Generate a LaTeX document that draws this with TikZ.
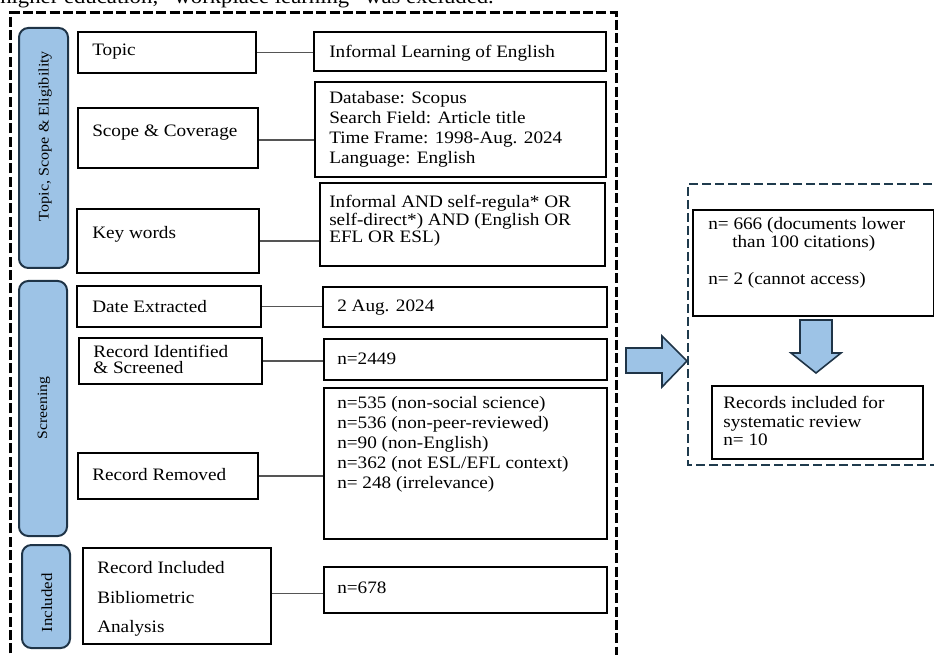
\documentclass[tikz,border=0pt]{standalone}
\usepackage{fontspec}
\setmainfont[FakeStretch=1.1]{Liberation Serif}
\definecolor{lblue}{HTML}{9DC3E6}
\definecolor{navy}{HTML}{1F3447}
\definecolor{dnavy}{HTML}{1F3B4D}
\definecolor{cgray}{HTML}{555555}
\begin{document}
\begin{tikzpicture}[x=0.75pt,y=-0.75pt,
  every node/.style={font=\fontsize{13.1pt}{15pt}\selectfont},
  box/.style={draw=black, line width=1.5pt, anchor=north west, inner sep=0pt},
  txt/.style={anchor=west, inner sep=0pt, align=left},
  side/.style={draw=navy, fill=lblue, line width=1.5pt, rounded corners=7pt, inner sep=0pt},
  sidetxt/.style={rotate=90, inner sep=0pt},
  conn/.style={draw=cgray, line width=0.8pt},
  frame/.style={draw=black, line width=2.25pt, dash pattern=on 7.5pt off 2.5pt},
  rframe/.style={draw=dnavy, line width=1.5pt, dash pattern=on 6.75pt off 3pt},
  blockarrow/.style={draw=navy, fill=lblue, line width=1.2pt, line join=miter}]
\useasboundingbox (0,0) rectangle (934,655);

% heading remnant
\node[anchor=base west, inner sep=0pt, font=\fontsize{15.5pt}{17pt}\selectfont] (head) at (0,4) {higher education; “workplace learning” was excluded.};

% outer dashed frame
\draw[frame] (10,680) -- (10,13) -- (616,13) -- (616,680);

% side labels
\node[side, minimum width=36.75pt, minimum height=180pt] (s1) at (43.5,148) {};
\node[sidetxt, font=\fontsize{11pt}{13pt}\selectfont] (s1t) at (45,136) {Topic, Scope \& Eligibility};
\node[side, minimum width=36pt, minimum height=191.25pt] (s2) at (43,408.5) {};
\node[sidetxt, font=\fontsize{10.7pt}{12pt}\selectfont] (s2t) at (44,408) {Screening};
\node[side, minimum width=36pt, minimum height=77.25pt] (s3) at (46,596.5) {};
\node[sidetxt, font=\fontsize{11.5pt}{13pt}\selectfont] (s3t) at (47,603) {Included};

% left boxes
\node[box, minimum width=133.5pt, minimum height=30.75pt] (topic) at (77,31) {};
\node[txt] (topict) at (92,52) {Topic};
\node[box, minimum width=135pt, minimum height=45pt] (scope) at (77,107) {};
\node[txt] (scopet) at (92,133) {Scope \& Coverage};
\node[box, minimum width=136.5pt, minimum height=48pt] (keyw) at (76,208) {};
\node[txt] (keywt) at (92,234) {Key words};
\node[box, minimum width=138pt, minimum height=30.75pt] (date) at (76,285) {};
\node[txt] (datet) at (92,307) {Date Extracted};
\node[box, minimum width=137.25pt, minimum height=34.5pt] (ident) at (78,337) {};
\node[txt, font=\fontsize{13.1pt}{12pt}\selectfont] (identt) at (93,359) {Record Identified\\\& Screened};
\node[box, minimum width=135pt, minimum height=34.5pt] (remov) at (77,452) {};
\node[txt] (removt) at (92,475) {Record Removed};
\node[box, minimum width=141pt, minimum height=72pt] (incl) at (82,547) {};
\node[txt, font=\fontsize{13.1pt}{22pt}\selectfont] (inclt) at (97,599) {Record Included\\Bibliometric\\Analysis};

% right boxes
\node[box, minimum width=219pt, minimum height=29.25pt] (r1) at (313,31) {};
\node[txt] (r1t) at (329,53) {Informal Learning of English};
\node[box, minimum width=218.25pt, minimum height=71.25pt] (r2) at (314,81) {};
\node[txt] (r2t) at (329,129) {Database: Scopus\\Search Field: Article title\\Time Frame: 1998-Aug. 2024\\Language: English};
\node[box, minimum width=213.75pt, minimum height=62.25pt] (r3) at (319,182) {};
\node[txt, font=\fontsize{13.1pt}{13.1pt}\selectfont] (r3t) at (329,221) {Informal AND self-regula* OR\\self-direct*) AND (English OR\\EFL OR ESL)};
\node[box, minimum width=213pt, minimum height=30pt] (r4) at (322,286) {};
\node[txt] (r4t) at (337,308) {2 Aug. 2024};
\node[box, minimum width=212.25pt, minimum height=30.75pt] (r5) at (323,338) {};
\node[txt] (r5t) at (337,359) {n=2449};
\node[box, minimum width=212.25pt, minimum height=113.25pt] (r6) at (323,387) {};
\node[txt] (r6t) at (337,444) {n=535 (non-social science)\\n=536 (non-peer-reviewed)\\n=90 (non-English)\\n=362 (not ESL/EFL context)\\n= 248 (irrelevance)};
\node[box, minimum width=212.25pt, minimum height=34.5pt] (r7) at (323,566) {};
\node[txt] (r7t) at (337,588) {n=678};

% connectors
\draw[conn] (topic.east) -- (topic.east -| r1.west);
\draw[conn] ([yshift=-1.5pt]scope.east) -- ([yshift=-1.5pt]scope.east -| r2.west);
\draw[conn] (keyw.east) -- (keyw.east -| r3.west);
\draw[conn] (date.east) -- (date.east -| r4.west);
\draw[conn] (ident.east) -- (ident.east -| r5.west);
\draw[conn] (remov.east) -- (remov.east -| r6.west);
\draw[conn] ([yshift=2pt]incl.east) -- ([yshift=2pt]incl.east -| r7.west);

% big right arrow
\draw[blockarrow] (626,348) -- (662,348) -- (662,336) -- (687,361) -- (662,387) -- (662,373) -- (626,373) -- cycle;

% right dashed frame
\draw[rframe] (945,184) -- (688,184) -- (688,465) -- (945,465);

% right boxes
\node[box, minimum width=180.75pt, minimum height=79.5pt] (d1) at (692,209) {};
\node[txt, font=\fontsize{13.1pt}{13.5pt}\selectfont] (d1t) at (708,253) {n= 666 (documents lower\\\hspace*{18pt}than 100 citations)\\[14.25pt]n= 2 (cannot access)};
\draw[blockarrow] (800,320) -- (832,320) -- (832,353) -- (841,353) -- (816,373) -- (791,353) -- (800,353) -- cycle;
\node[box, minimum width=158.25pt, minimum height=54.75pt] (d2) at (711,385) {};
\node[txt, font=\fontsize{13.1pt}{13.9pt}\selectfont] (d2t) at (723,421) {Records included for\\systematic review\\n= 10};
\end{tikzpicture}
\end{document}
